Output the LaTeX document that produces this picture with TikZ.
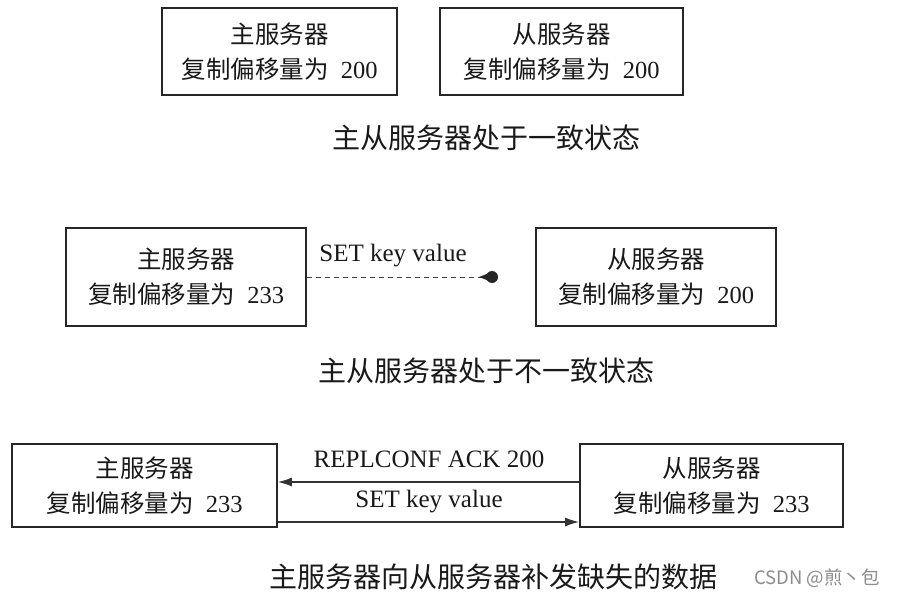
\documentclass[tikz,border=0pt]{standalone}
\usepackage{fontspec}
\setmainfont{Liberation Serif}
\newfontfamily\cjk{Noto Sans CJK SC}
\usetikzlibrary{arrows.meta,calc}
\begin{document}
\begin{tikzpicture}[x=1pt,y=-1pt,
  srv/.style={draw=black!85, line width=1.8pt, align=center, inner sep=0pt, text=black!90, font=\fontsize{24.5}{35}\selectfont},
  captxt/.style={font=\cjk\fontsize{28}{32}\selectfont, text=black!90},
  lbl/.style={font=\fontsize{25}{28}\selectfont, text=black!90},
  conn/.style={line width=1.2pt, draw=black!80, -{Latex[length=14pt,width=9pt]}}]
\useasboundingbox[fill=white] (0,0) rectangle (899,596);
% row 1
\node[srv, minimum width=235pt, minimum height=87pt] (m1) at (279.5,51.5) {{\cjk 主服务器}\\{\cjk 复制偏移量为}\enspace 200};
\node[srv, minimum width=243pt, minimum height=87pt] (s1) at (561.5,51.5) {{\cjk 从服务器}\\{\cjk 复制偏移量为}\enspace 200};
\node[captxt] (c1) at (486,138) {主从服务器处于一致状态};
% row 2
\node[srv, minimum width=240pt, minimum height=98pt] (m2) at (186,277) {{\cjk 主服务器}\\{\cjk 复制偏移量为}\enspace 233};
\node[srv, minimum width=240pt, minimum height=98pt] (s2) at (656,277) {{\cjk 从服务器}\\{\cjk 复制偏移量为}\enspace 200};
\coordinate (d) at (492,277);
\draw[line width=1pt, draw=black!75, dash pattern=on 5pt off 4pt] (m2.east) -- (d);
\fill[black!85] (d) circle (6pt);
\fill[black!85] ($(d)+(-13,0)$) -- ($(d)+(-4,-3.5)$) -- ($(d)+(-4,3.5)$) -- cycle;
\node[lbl] (l2) at (393,256) {SET key value};
\node[captxt] (c2) at (486,371) {主从服务器处于不一致状态};
% row 3
\node[srv, minimum width=265pt, minimum height=83pt] (m3) at (144.5,485.5) {{\cjk 主服务器}\\{\cjk 复制偏移量为}\enspace 233};
\node[srv, minimum width=263pt, minimum height=83pt] (s3) at (711.5,485.5) {{\cjk 从服务器}\\{\cjk 复制偏移量为}\enspace 233};
\draw[conn] (s3.west |- 0,482) -- (m3.east |- 0,482);
\draw[conn] (m3.east |- 0,522) -- (s3.west |- 0,522);
\node[lbl] (l3a) at (429,459) {REPLCONF ACK 200};
\node[lbl] (l3b) at (429,502) {SET key value};
\node[captxt] (c3) at (493,577) {主服务器向从服务器补发缺失的数据};
\node[font=\fontspec{Noto Sans CJK SC}\fontsize{18.5}{20}\selectfont, text=black!45] (wm) at (817,578) {CSDN @煎丶包};
\end{tikzpicture}
\end{document}
